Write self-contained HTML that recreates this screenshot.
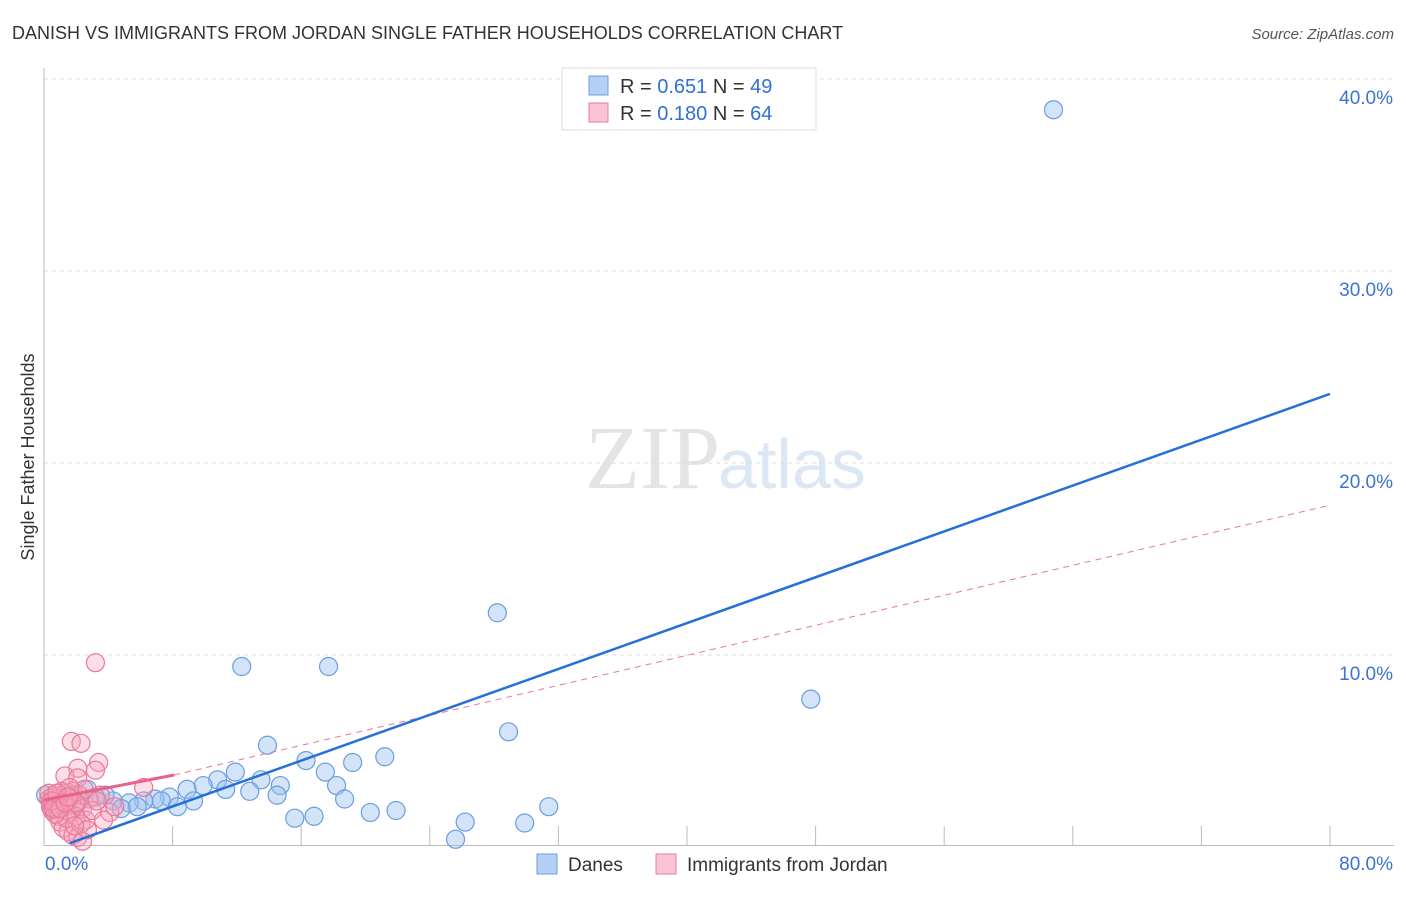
<!DOCTYPE html>
<html><head><meta charset="utf-8"><style>
body{margin:0;background:#fff;font-family:"Liberation Sans",sans-serif;}
</style></head><body>
<svg width="1406" height="892" xmlns="http://www.w3.org/2000/svg">
<text x="12" y="39" font-size="18" fill="#333">DANISH VS IMMIGRANTS FROM JORDAN SINGLE FATHER HOUSEHOLDS CORRELATION CHART</text>
<text x="1394" y="39" font-size="15" fill="#555" text-anchor="end" font-style="italic">Source: ZipAtlas.com</text>
<text x="720" y="488" font-size="90" fill="#e4e4e4" text-anchor="end" font-family="Liberation Serif">ZIP</text>
<text x="718" y="488" font-size="70" fill="#dce7f5">atlas</text>
<g id="grid"></g>
<g id="marks"></g>
<text transform="translate(34,457) rotate(-90)" font-size="18" fill="#333" text-anchor="middle">Single Father Households</text>
<g>
<rect x="562" y="68" width="254" height="62" fill="#fff" stroke="#ddd"/>
<rect x="589" y="76" width="19" height="19" fill="#b5d0f5" stroke="#6a9de0"/>
<text x="620" y="93" font-size="20" fill="#333">R = <tspan fill="#2f6fd6">0.651</tspan>   N = <tspan fill="#2f6fd6">49</tspan></text>
<rect x="589" y="103" width="19" height="19" fill="#f9c4d3" stroke="#e8799a"/>
<text x="620" y="120" font-size="20" fill="#333">R = <tspan fill="#2f6fd6">0.180</tspan>   N = <tspan fill="#2f6fd6">64</tspan></text>
</g>
<g>
<rect x="537" y="854" width="20" height="20" fill="#b5d0f5" stroke="#6a9de0"/>
<text x="568" y="871" font-size="19" fill="#333">Danes</text>
<rect x="656" y="854" width="20" height="20" fill="#f9c4d3" stroke="#e8799a"/>
<text x="687" y="871" font-size="19" fill="#333">Immigrants from Jordan</text>
</g>
</svg>
<script>
const yTicks=[10,20,30,40];
const yTickLabels=["10.0%","20.0%","30.0%","40.0%"];
const xTicks=[8,16,24,32,40,48,56,64,72,80];
const xTickLabels=["0.0%","80.0%"];
const danesX=[62.8,28.2,12.3,17.7,47.7,28.9,13.9,21.2,16.3,19.2,11.9,17.5,10.8,13.5,14.7,18.2,9.9,8.9,11.3,12.8,14.5,18.7,9.3,7.8,6.9,7.3,6.2,8.3,5.3,4.3,5.8,4.8,3.8,2.7,31.4,20.3,21.9,15.6,16.8,26.2,29.9,25.6,0.1,1.0,1.7,3.2,2.2,1.4,0.5];
const danesY=[38.4,12.2,9.4,9.4,7.7,6.0,5.3,4.7,4.5,4.4,3.9,3.9,3.5,3.5,3.2,3.2,3.2,3.0,3.0,2.9,2.7,2.5,2.4,2.6,2.5,2.4,2.4,2.1,2.3,2.4,2.1,2.0,2.7,3.0,2.1,1.8,1.9,1.5,1.6,1.3,1.25,0.4,2.7,2.4,2.7,2.6,2.4,2.2,2.0];
const jordanX=[3.2,1.7,2.3,3.4,3.2,2.1,1.3,2.1,6.2,3.5,4.1,3.7,0.3,0.4,0.5,0.6,0.7,0.8,0.9,1.0,0.4,0.5,0.6,0.8,1.1,1.2,1.3,1.4,1.5,1.6,1.7,1.8,1.9,2.0,2.2,2.4,2.5,2.6,2.8,3.0,0.9,1.0,1.2,1.5,1.8,2.1,2.4,1.4,0.7,1.1,1.6,2.0,2.3,2.7,0.3,0.5,0.6,0.8,1.0,1.3,1.9,4.4,3.3,1.5];
const jordanY=[9.6,5.5,5.4,4.4,4.0,4.1,3.7,3.6,3.1,2.7,1.8,1.4,2.5,2.3,2.6,2.2,2.4,2.5,2.3,2.6,2.1,1.9,2.7,2.0,2.2,2.5,2.8,2.1,2.4,1.8,2.6,2.9,2.2,1.6,2.7,2.0,3.0,1.4,2.5,1.9,1.6,1.3,1.0,0.8,0.6,0.5,0.3,1.5,1.7,2.9,3.1,2.3,1.2,0.9,2.8,2.4,2.0,2.8,2.0,2.3,1.1,2.1,2.4,2.6];
const danesTrend=[[1.6,0.2],[80,23.6]];
const jordanTrend=[[0,2.45],[8.1,3.75],[80,17.8]];
const NS="http://www.w3.org/2000/svg";
const sx=v=>44+v*16.075, sy=v=>847-v*19.2;
function mk(tag,attrs,parent){const e=document.createElementNS(NS,tag);for(const k in attrs)e.setAttribute(k,attrs[k]);parent.appendChild(e);return e;}
const grid=document.getElementById('grid'), marks=document.getElementById('marks');
yTicks.forEach((t,i)=>{
 const l=mk('line',{x1:44,x2:1394,y1:sy(t),y2:sy(t),stroke:'#ddd','stroke-dasharray':'4,4'},grid);
 
 
 const tx=mk('text',{x:1393,y:sy(t)+25,'font-size':19,fill:'#3b72d4','text-anchor':'end'},grid);
 tx.textContent=yTickLabels[i];
 
 
});
const ax=mk('line',{x1:44,x2:44,y1:68,y2:846,stroke:'#bbb'},grid);


const bx=mk('line',{x1:44,x2:1394,y1:845.5,y2:845.5,stroke:'#bbb'},grid);


xTicks.forEach(t=>{
 const l=mk('line',{x1:sx(t),x2:sx(t),y1:826,y2:845,stroke:'#bbb'},grid);
 
 
});
const x0=mk('text',{x:45,y:870,'font-size':19,fill:'#3b72d4'},grid);x0.textContent=xTickLabels[0];


const x1=mk('text',{x:1393,y:870,'font-size':19,fill:'#3b72d4','text-anchor':'end'},grid);x1.textContent=xTickLabels[1];


danesX.forEach((x,i)=>{
 const c=mk('circle',{cx:sx(x),cy:sy(danesY[i]),r:9,fill:'rgba(160,196,240,0.45)',stroke:'#6a9de0','stroke-width':1.2},marks);
 
 
});
jordanX.forEach((x,i)=>{
 const c=mk('circle',{cx:sx(x),cy:sy(jordanY[i]),r:9,fill:'rgba(245,160,185,0.35)',stroke:'#e8799a','stroke-width':1.2},marks);
 
 
});
const jd=mk('line',{x1:sx(jordanTrend[1][0]),y1:sy(jordanTrend[1][1]),x2:sx(jordanTrend[2][0]),y2:sy(jordanTrend[2][1]),stroke:'#e8799a','stroke-width':1,'stroke-dasharray':'6,5'},marks);


const js=mk('line',{x1:sx(jordanTrend[0][0]),y1:sy(jordanTrend[0][1]),x2:sx(jordanTrend[1][0]),y2:sy(jordanTrend[1][1]),stroke:'#e8628a','stroke-width':3},marks);


const dl=mk('line',{x1:sx(danesTrend[0][0]),y1:sy(danesTrend[0][1]),x2:sx(danesTrend[1][0]),y2:sy(danesTrend[1][1]),stroke:'#2270d8','stroke-width':2.5},marks);


</script>
</body></html>
